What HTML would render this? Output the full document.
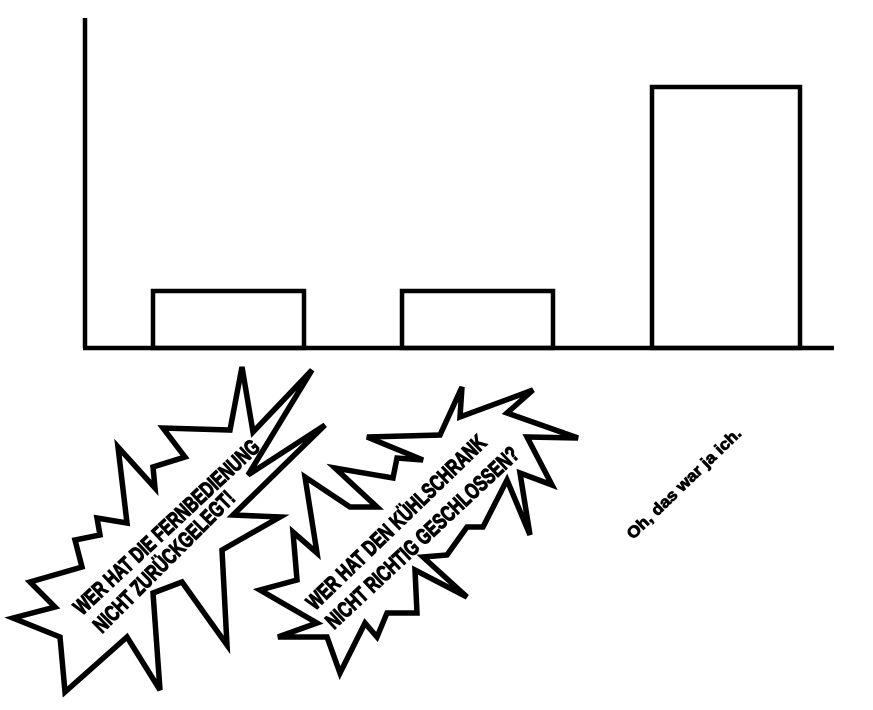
<!DOCTYPE html>
<html><head><meta charset="utf-8"><style>
html,body{margin:0;padding:0;background:#fff;}
svg{display:block;}
text{font-family:"Liberation Sans Narrow","Liberation Sans",sans-serif;font-weight:bold;fill:#000;stroke:#000;stroke-width:1.2;}
</style></head><body>
<svg width="873" height="710" viewBox="0 0 873 710" xmlns="http://www.w3.org/2000/svg">
<g fill="none" stroke="#000" stroke-width="4.5" stroke-linejoin="miter">
<line x1="85" y1="18" x2="85" y2="348"/>
<line x1="83" y1="348" x2="834" y2="348"/>
<rect x="153" y="291" width="151" height="57"/>
<rect x="402" y="291" width="151" height="57"/>
<rect x="652" y="87" width="148" height="261"/>
</g>
<g fill="none" stroke="#000" stroke-width="5.5" stroke-linejoin="miter" stroke-miterlimit="4">
<polygon points="242,367 253,432 312,370 248,475 325,425 233,515 280,517 222,550 227,645 182,582 153,593 160,690 127,637 65,692 60,637 13,618 55,607 30,582 82,567 75,540 100,535 97,518 127,523 118,447 155,488 153,467 185,457 163,428 230,430"/>
<polygon points="462,387 460,417 533,390 507,413 578,438 527,437 552,485 520,473 530,535 507,480 483,527 467,527 447,555 423,557 467,597 415,570 417,613 387,613 377,637 365,623 340,673 327,637 278,637 317,623 260,590 297,580 293,532 317,553 305,477 350,507 377,507 335,468 393,478 397,458 423,460 367,437 440,435"/>
</g>
<text font-size="22" textLength="245" lengthAdjust="spacingAndGlyphs" transform="translate(82,616) rotate(-43)">WER HAT DIE FERNBEDIENUNG</text>
<text font-size="22" textLength="190" lengthAdjust="spacingAndGlyphs" transform="translate(102,634) rotate(-45)">NICHT ZURÜCKGELEGT!</text>
<text font-size="22" textLength="240" lengthAdjust="spacingAndGlyphs" transform="translate(315,611) rotate(-44)">WER HAT DEN KÜHLSCHRANK</text>
<text font-size="22" textLength="255" lengthAdjust="spacingAndGlyphs" transform="translate(334,630) rotate(-43)">NICHT RICHTIG GESCHLOSSEN?</text>
<text font-size="16" textLength="152" lengthAdjust="spacingAndGlyphs" style="stroke-width:0.8" transform="translate(633,540) rotate(-44)">Oh, das war ja ich.</text>
</svg>
</body></html>
